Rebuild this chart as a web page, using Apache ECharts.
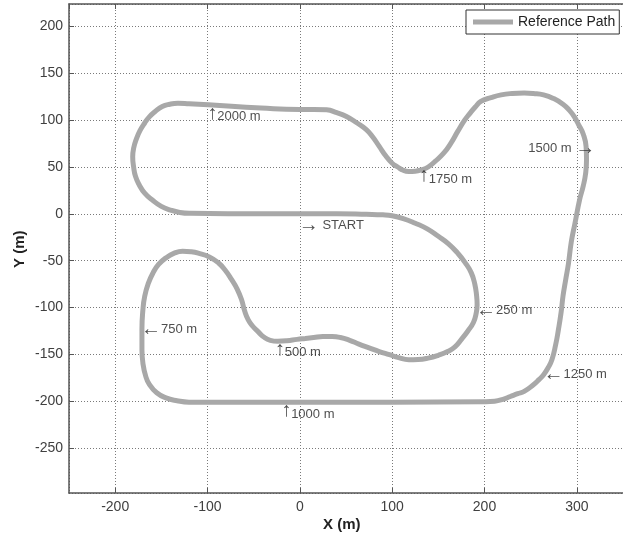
<!DOCTYPE html>
<html><head><meta charset="utf-8">
<script src="https://cdn.jsdelivr.net/npm/echarts@6/dist/echarts.min.js"></script>
<style>html,body{margin:0;padding:0;background:#fff}#c{width:623px;height:540px}</style>
</head><body><div id="c"></div>
<script>
// Reference path points [x, y] in metres, starting at START heading right
const pathPts = [
  [0,0],[40,0],[72,-0.5],[90,-1],[100,-2],[112,-5],[125,-10],[138,-16],[150,-24],[161,-32],
  [171,-42],[179,-52],[185.7,-63],[189.5,-75],[191.5,-88],[192,-97],[191,-106],[188,-116],[182,-125],[175,-134],
  [168,-142],[160,-147],[150,-151],[139,-154],[128,-155.5],[118,-155.7],[107,-153.5],[97,-150.4],[86,-147],[75,-143],
  [64,-139],[54,-135],[44,-132],[35,-131],[25,-131],[15,-132],[6,-133],[-3,-134],[-14,-135.5],[-24,-136],
  [-32,-135],[-39,-131.5],[-45,-126],[-51,-120],[-56,-113],[-60,-103],[-63,-92],[-68,-80],[-74,-70],[-81,-60],
  [-88,-52.5],[-98,-46],[-110,-42],[-118,-40.5],[-127,-40],[-136,-42],[-145,-47],[-153,-54],[-159,-63],[-164,-74],
  [-168,-88],[-170,-103],[-171,-123],[-171,-145],[-170,-159],[-167,-173],[-163,-182],[-155,-191],[-145,-196.5],[-133,-199.5],
  [-120,-201],[-100,-201],[-74,-201],[0,-201],[100,-201],[200,-200.5],[211,-200],[220,-198],[228,-195],[236,-192],
  [243,-189.5],[253,-182.4],[259,-177],[264,-171.7],[269,-164],[273,-155.7],[277,-140],[280,-124],[283,-105],[285,-88],
  [288,-70],[291,-52.5],[294,-30],[298,-10],[303,15],[307,30],[309.5,43],[310.5,58],[310,72],[307,85],
  [302,95],[297,104],[292,110.5],[285,117],[275,123],[264,127],[253,128.5],[243,129],[230,128.5],[218,127],
  [207,124],[196,120],[190,114],[184,107],[178.5,100],[171,88],[164,76],[156,65],[146.5,56],[139,50],
  [132,47],[125,45.5],[118,45.3],[112,46.5],[106,50],[100,54],[93,62],[86,72],[79,82],[72,90],
  [62,97],[50.5,104],[40,108],[29,111],[15,111.5],[0,111.5],[-42,113],[-99,116.4],[-120,117.5],[-132,118],
  [-141,117],[-149,114.6],[-157,109],[-163,103.5],[-168,97],[-173,89],[-177,80],[-180,70],[-181,61],[-180,50],
  [-178,40],[-174,31],[-168,22],[-160,15],[-150,8],[-140,4],[-130,1.5],[-118,0.5],[-78,0],[0,0]
];
// Distance annotations (anchor = arrow tip)
const annArrow = ['\u2192', '\u2190', '\u2191', '\u2190', '\u2191', '\u2190', '\u2192', '\u2191', '\u2191'];
const annText = ['START', '250 m', '500 m', '750 m', '1000 m', '1250 m', '1500 m', '1750 m', '2000 m'];
const annX = [0, 192, -24, -171, -17, 265, 308, 132, -97];
const annY = [-12.7, -103, -138, -123, -204, -171, 69.5, 47, 114];

const xRange = [-250, 350];
const yRange = [-298, 224];
const seriesName = 'Reference Path';

const annData = annX.map((x, i) => {
  const a = annArrow[i], t = annText[i];
  let text, align = 'left', vAlign = 'middle', dx = 0, dy = 0;
  if (a === '\u2191') { text = '{u|' + a + '}{b|' + t + '}'; vAlign = 'top'; dx = -3; dy = -4; }
  else if (i === 6) { text = '{t|' + t + ' }{a|' + a + '}'; align = 'right'; dx = 11; }
  else if (i === 0) { text = '{a|' + a + '}{t| ' + t + '}'; dx = -1; }
  else { text = '{a|' + a + '}{t|' + t + '}'; dx = -1; }
  return {
    value: [x, annY[i]],
    label: { formatter: text, align: align, verticalAlign: vAlign, offset: [dx, dy] }
  };
});

const gridColor = '#7a7a7a';
const axisColor = '#555';
const font = 'Liberation Sans, Arial, sans-serif';
const chart = echarts.init(document.getElementById('c'), null, { renderer: 'canvas' });
chart.setOption({
  animation: false,
  backgroundColor: '#fff',
  textStyle: { fontFamily: font },
  grid: { left: 69, top: 4, width: 562, height: 489, containLabel: false },
  xAxis: [{
    type: 'value', min: xRange[0], max: xRange[1], minInterval: 100, maxInterval: 100, splitNumber: 6,
    axisLine: { show: true, onZero: false, lineStyle: { color: axisColor, width: 1.5 } },
    axisTick: { show: true, inside: true, length: 5, lineStyle: { color: axisColor } },
    axisLabel: { showMinLabel: false, showMaxLabel: false, color: '#404040', fontSize: 14, margin: 7 },
    splitLine: { show: true, lineStyle: { color: gridColor, type: [1, 2], width: 1 } }
  }, {
    type: 'value', position: 'top', min: xRange[0], max: xRange[1], minInterval: 100, maxInterval: 100, splitNumber: 6,
    axisLine: { show: true, onZero: false, lineStyle: { color: axisColor, width: 1.5 } },
    axisTick: { show: true, inside: true, length: 5, lineStyle: { color: axisColor } },
    axisLabel: { show: false }, splitLine: { show: false }
  }],
  yAxis: [{
    type: 'value', min: yRange[0], max: yRange[1], minInterval: 50, maxInterval: 50, splitNumber: 10,
    axisLine: { show: true, onZero: false, lineStyle: { color: axisColor, width: 1.5 } },
    axisTick: { show: true, inside: true, length: 5, lineStyle: { color: axisColor } },
    axisLabel: { showMinLabel: false, showMaxLabel: false, color: '#404040', fontSize: 14, margin: 6 },
    splitLine: { show: true, lineStyle: { color: gridColor, type: [1, 2], width: 1 } }
  }],
  legend: {
    data: [seriesName], left: 466, top: 10, orient: 'horizontal', icon: 'rect',
    padding: [5, 4, 5, 7], itemWidth: 40, itemHeight: 5, itemGap: 4,
    backgroundColor: '#fff', borderColor: '#333', borderWidth: 1, borderRadius: 0,
    textStyle: { color: '#222', fontSize: 14 }
  },
  graphic: [
    { type: 'text', left: 323, top: 517, style: { text: 'X (m)', font: 'bold 15px ' + font, fill: '#222' } },
    { type: 'text', x: 12, y: 268, rotation: Math.PI / 2, style: { text: 'Y (m)', font: 'bold 15px ' + font, fill: '#222' } }
  ],
  series: [{
    name: seriesName, type: 'line', data: pathPts, symbol: 'none', smooth: 0.5,
    lineStyle: { color: '#a8a8a8', width: 5 }, itemStyle: { color: '#a8a8a8' }, z: 3
  }, {
    name: 'annotations', type: 'scatter', data: annData, symbolSize: 0, z: 5, silent: true,
    label: {
      show: true, position: [0, 0], color: '#222', fontSize: 13,
      rich: {
        a: { fontSize: 20, color: '#222', fontFamily: font, verticalAlign: 'middle' },
        t: { fontSize: 13, color: '#222', fontFamily: font, verticalAlign: 'middle' },
        u: { fontSize: 20, color: '#222', fontFamily: font, verticalAlign: 'bottom' },
        b: { fontSize: 13, color: '#222', fontFamily: font, verticalAlign: 'bottom' }
      }
    }
  }]
});
</script></body></html>
